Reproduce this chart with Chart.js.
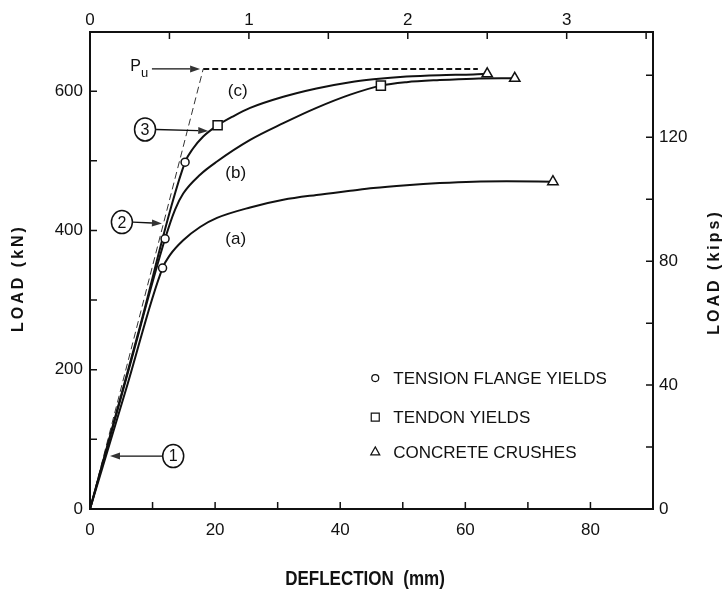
<!DOCTYPE html>
<html>
<head>
<meta charset="utf-8">
<title>Load - deflection</title>
<script src="https://cdn.jsdelivr.net/npm/chart.js@4.4.1/dist/chart.umd.min.js"></script>
<style>
  html, body { margin: 0; padding: 0; background: #fff; }
  #wrap { width: 724px; height: 589px; }
</style>
</head>
<body>
<div id="wrap"><canvas id="loadChart" width="724" height="589"></canvas></div>
<script>
// curve (a)
const deflA = [0, 5.8, 11.6, 12.8, 14.9, 17.6, 20.3, 25.6, 30.9, 36.2, 41.6, 45.3, 50.6, 55.9, 61.3, 66.6, 74.0];
const loadA = [0, 173, 346, 365, 386, 405, 418, 433, 444, 451, 457, 461, 465, 468, 470, 470.5, 470];
// curve (b)
const deflB = [0, 6.0, 12.0, 13.6, 14.9, 17.6, 20.3, 25.6, 30.9, 36.2, 41.6, 46.5, 50.6, 55.9, 61.3, 67.9];
const loadB = [0, 194, 388, 430, 453, 480, 499, 530, 554, 576, 595, 608, 613, 616, 618, 618.5];
// curve (c)
const deflC = [0, 7.6, 15.2, 16.5, 18.1, 20.4, 22.9, 25.6, 30.9, 36.2, 41.6, 45.3, 50.6, 55.9, 61.3, 63.5];
const loadC = [0, 249, 498, 518, 535, 551, 564, 576, 592, 604, 613, 617, 621, 623, 624, 625];
// ultimate load line Pu
const puDefl = [0, 18.1, 62];
const puLoad = [0, 632, 632];

// events on the curves
const flangeDefl = [11.6, 12.0, 15.2];
const flangeLoad = [346, 388, 498];
const tendonDefl = [20.4, 46.5];
const tendonLoad = [551, 608];
const crushDefl = [74.0, 67.9, 63.5];
const crushLoad = [470, 618.5, 625];

// axis ranges
const X_MAX = 90;       // mm
const Y_MAX = 685;      // kN
const MM_PER_IN = 25.4;
const KN_PER_KIP = 4.448;

// labels on the plot
const curveNames = ['(a)', '(b)', '(c)'];
const curveLabelDefl = [23.3, 23.3, 23.6];
const curveLabelLoad = [388, 482, 600];

const calloutText = ['1', '2', '3'];
const calloutDefl = [13.3, 5.1, 8.8];
const calloutLoad = [76, 412, 545];
const calloutTipDefl = [3.2, 11.5, 18.9];
const calloutTipLoad = [76, 410, 543];

const legendText = ['TENSION FLANGE YIELDS', 'TENDON YIELDS', 'CONCRETE CRUSHES'];
const legendStyle = ['circle', 'rect', 'triangle'];
const legendLoad = [188, 132, 82];
const legendDefl = 45.6;

const FONT = '"Liberation Sans", Arial, sans-serif';
const INK = '#111';

function pts(xs, ys) {
    return xs.map((x, i) => ({ x: x, y: ys[i] }));
}

function arrow(ctx, x0, y0, x1, y1) {
    const a = Math.atan2(y1 - y0, x1 - x0);
    const len = 10, half = 3.5;
    ctx.beginPath();
    ctx.moveTo(x0, y0);
    ctx.lineTo(x1 - Math.cos(a) * len, y1 - Math.sin(a) * len);
    ctx.stroke();
    ctx.beginPath();
    ctx.moveTo(x1, y1);
    ctx.lineTo(x1 - Math.cos(a) * len - Math.sin(a) * half, y1 - Math.sin(a) * len + Math.cos(a) * half);
    ctx.lineTo(x1 - Math.cos(a) * len + Math.sin(a) * half, y1 - Math.sin(a) * len - Math.cos(a) * half);
    ctx.closePath();
    ctx.fill();
}

function marker(ctx, style, x, y) {
    ctx.beginPath();
    if (style === 'circle') {
        ctx.arc(x, y, 3.5, 0, Math.PI * 2);
    } else if (style === 'rect') {
        ctx.rect(x - 4, y - 4, 8, 8);
    } else {
        ctx.moveTo(x, y - 5);
        ctx.lineTo(x + 4.5, y + 3);
        ctx.lineTo(x - 4.5, y + 3);
        ctx.closePath();
    }
    ctx.stroke();
}

// tick marks drawn on the inside of the frame
const inwardTicks = {
    id: 'inwardTicks',
    afterDraw(chart) {
        const ctx = chart.ctx;
        const area = chart.chartArea;
        const L = 7;
        ctx.save();
        ctx.strokeStyle = INK;
        ctx.lineWidth = 1.5;
        ctx.beginPath();
        Object.values(chart.scales).forEach(s => {
            s.ticks.forEach(t => {
                const p = s.getPixelForValue(t.value);
                if (s.position === 'bottom') { ctx.moveTo(p, area.bottom); ctx.lineTo(p, area.bottom - L); }
                if (s.position === 'top') { ctx.moveTo(p, area.top); ctx.lineTo(p, area.top + L); }
                if (s.position === 'left') { ctx.moveTo(area.left, p); ctx.lineTo(area.left + L, p); }
                if (s.position === 'right') { ctx.moveTo(area.right, p); ctx.lineTo(area.right - L, p); }
            });
        });
        ctx.stroke();
        ctx.restore();
    }
};

// curve names, numbered callouts, Pu, legend and axis titles
const notes = {
    id: 'notes',
    afterDraw(chart) {
        const ctx = chart.ctx;
        const sx = chart.scales.x, sy = chart.scales.y;
        ctx.save();
        ctx.fillStyle = INK;
        ctx.strokeStyle = INK;
        ctx.textAlign = 'center';
        ctx.textBaseline = 'middle';

        ctx.font = '17px ' + FONT;
        curveNames.forEach((n, i) => {
            ctx.fillText(n, sx.getPixelForValue(curveLabelDefl[i]), sy.getPixelForValue(curveLabelLoad[i]));
        });

        // numbered callouts with arrows
        calloutText.forEach((n, i) => {
            const cx = sx.getPixelForValue(calloutDefl[i]);
            const cy = sy.getPixelForValue(calloutLoad[i]);
            const tx = sx.getPixelForValue(calloutTipDefl[i]);
            const ty = sy.getPixelForValue(calloutTipLoad[i]);
            ctx.lineWidth = 1.5;
            ctx.beginPath();
            ctx.ellipse(cx, cy, 10.5, 11.5, 0, 0, Math.PI * 2);
            ctx.stroke();
            ctx.font = '16px ' + FONT;
            ctx.fillText(n, cx, cy + 1);
            ctx.fillStyle = '#333';
            ctx.lineWidth = 1.3;
            const dir = Math.sign(tx - cx);
            arrow(ctx, cx + dir * 11, cy, tx, ty);
            ctx.fillStyle = INK;
        });

        // Pu with arrow to the ultimate load line
        const py = sy.getPixelForValue(puLoad[1]);
        const px = sx.getPixelForValue(7.3);
        ctx.font = '16px ' + FONT;
        ctx.fillText('P', px, py - 2);
        ctx.font = '13px ' + FONT;
        ctx.fillText('u', px + 9, py + 5);
        ctx.fillStyle = '#333';
        ctx.lineWidth = 1.3;
        arrow(ctx, sx.getPixelForValue(9.9), py, sx.getPixelForValue(17.6), py);
        ctx.fillStyle = INK;

        // legend
        ctx.textAlign = 'left';
        ctx.font = '17px ' + FONT;
        ctx.lineWidth = 1.2;
        legendText.forEach((t, i) => {
            const mx = sx.getPixelForValue(legendDefl);
            const my = sy.getPixelForValue(legendLoad[i]);
            marker(ctx, legendStyle[i], mx, my);
            ctx.fillText(t, mx + 18, my + 1);
        });

        // axis titles
        ctx.textAlign = 'center';
        ctx.font = 'bold 20px ' + FONT;
        ctx.save();
        ctx.translate(365, 579);
        ctx.scale(0.85, 1);
        ctx.fillText('DEFLECTION  (mm)', 0, 0);
        ctx.restore();

        ctx.font = 'bold 16px ' + FONT;
        ctx.letterSpacing = '3px';
        ctx.save();
        ctx.translate(19, 278);
        ctx.rotate(-Math.PI / 2);
        ctx.fillText('LOAD (kN)', 0, 0);
        ctx.restore();
        ctx.save();
        ctx.translate(715, 272);
        ctx.rotate(-Math.PI / 2);
        ctx.fillText('LOAD (kips)', 0, 0);
        ctx.restore();
        ctx.letterSpacing = '0px';
        ctx.restore();
    }
};

const tickFont = { family: FONT, size: 17 };
const frame = { display: true, color: INK, width: 2 };
const noGrid = { display: false, drawTicks: false };

const curveStyle = {
    showLine: true,
    borderColor: INK,
    borderWidth: 2,
    pointRadius: 0,
    cubicInterpolationMode: 'monotone',
    order: 2
};
const eventStyle = {
    showLine: false,
    pointBackgroundColor: '#fff',
    pointBorderColor: INK,
    pointBorderWidth: 1.5,
    order: 0
};

new Chart(document.getElementById('loadChart'), {
    type: 'scatter',
    data: {
        datasets: [
            Object.assign({ label: 'Tension flange yields', data: pts(flangeDefl, flangeLoad), pointStyle: 'circle', pointRadius: 4 }, eventStyle),
            Object.assign({ label: 'Tendon yields', data: pts(tendonDefl, tendonLoad), pointStyle: 'rect', pointRadius: 6.4 }, eventStyle),
            Object.assign({ label: 'Concrete crushes', data: pts(crushDefl, crushLoad), pointStyle: 'triangle', pointRadius: 6 }, eventStyle),
            Object.assign({ label: '(a)', data: pts(deflA, loadA) }, curveStyle),
            Object.assign({ label: '(b)', data: pts(deflB, loadB) }, curveStyle),
            Object.assign({ label: '(c)', data: pts(deflC, loadC) }, curveStyle),
            {
                label: 'Pu rise',
                data: pts(puDefl.slice(0, 2), puLoad.slice(0, 2)),
                showLine: true, borderColor: '#333', borderWidth: 1, borderDash: [7, 4],
                pointRadius: 0, order: 3
            },
            {
                label: 'Pu',
                data: pts(puDefl.slice(1), puLoad.slice(1)),
                showLine: true, borderColor: INK, borderWidth: 2, borderDash: [6, 3],
                pointRadius: 0, order: 3
            }
        ]
    },
    options: {
        responsive: false,
        animation: false,
        layout: { padding: 0 },
        plugins: {
            legend: { display: false },
            tooltip: { enabled: false }
        },
        scales: {
            x: {
                type: 'linear', position: 'bottom', min: 0, max: X_MAX,
                grid: noGrid, border: frame,
                ticks: {
                    stepSize: 10, autoSkip: false, maxRotation: 0, padding: 11,
                    color: INK, font: tickFont,
                    callback: v => v % 20 === 0 ? v : ''
                },
                afterFit: s => { s.height = 80; }
            },
            x2: {
                type: 'linear', position: 'top', min: 0, max: X_MAX / MM_PER_IN,
                grid: noGrid, border: frame,
                ticks: {
                    stepSize: 0.5, autoSkip: false, maxRotation: 0, padding: 1, includeBounds: false,
                    color: INK, font: tickFont,
                    callback: v => Number.isInteger(v) ? v : ''
                },
                afterFit: s => { s.height = 32; }
            },
            y: {
                type: 'linear', position: 'left', min: 0, max: Y_MAX,
                grid: noGrid, border: frame,
                ticks: {
                    stepSize: 100, autoSkip: false, padding: 7, includeBounds: false,
                    color: INK, font: tickFont,
                    callback: v => v % 200 === 0 ? v : ''
                },
                afterFit: s => { s.width = 90; }
            },
            y2: {
                type: 'linear', position: 'right', min: 0, max: Y_MAX / KN_PER_KIP,
                grid: noGrid, border: frame,
                ticks: {
                    stepSize: 20, autoSkip: false, padding: 6, includeBounds: false,
                    color: INK, font: tickFont,
                    callback: v => v % 40 === 0 ? v : ''
                },
                afterFit: s => { s.width = 71; }
            }
        }
    },
    plugins: [inwardTicks, notes]
});
</script>
</body>
</html>
